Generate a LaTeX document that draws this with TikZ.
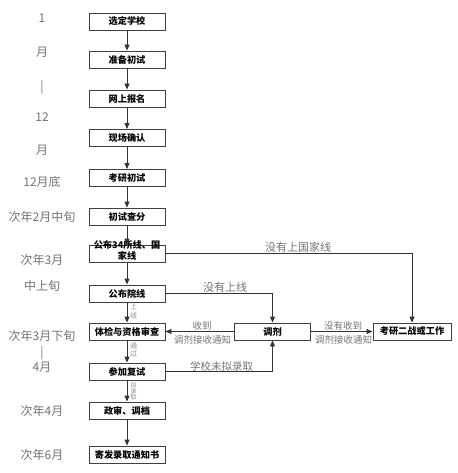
\documentclass[tikz,border=0pt]{standalone}
\usepackage{fontspec}
\setmainfont{Noto Sans CJK SC}
\usetikzlibrary{arrows.meta}
\begin{document}
\begin{tikzpicture}[x=1pt,y=-1pt,
 box/.style={draw=black!75, fill=white, line width=0.9pt, minimum width=76pt, minimum height=17pt, inner sep=0pt, font=\fontsize{9.2}{10}\selectfont\bfseries},
 tl/.style={text=black!55, font=\fontsize{12}{13}\selectfont, inner sep=0pt},
 lab/.style={text=black!55, font=\fontsize{9.5}{11}\selectfont, inner sep=0pt},
 vlab/.style={text=black!45, font=\fontsize{7}{8.5}\selectfont, inner sep=0pt, align=center},
 arr/.style={draw=black!80, line width=0.9pt, -{Triangle[length=6pt,width=5pt]}},
]
\useasboundingbox (0,0) rectangle (457,473);
% time labels
\node[tl] (t1) at (42,18) {1};
\node[tl] (t2) at (42,52) {月};
\node[tl] (t3) at (42,87) {|};
\node[tl] (t4) at (42,117) {12};
\node[tl] (t5) at (42,150) {月};
\node[tl] (t6) at (42,182) {12月底};
\node[tl] (t7) at (42,217) {次年2月中旬};
\node[tl] (t8) at (42,260) {次年3月};
\node[tl] (t9) at (42,286) {中上旬};
\node[tl] (t10) at (42,336) {次年3月下旬};
\node[tl] (t11) at (42,353) {|};
\node[tl] (t12) at (42,367) {4月};
\node[tl] (t13) at (42,411) {次年4月};
\node[tl] (t14) at (42,455) {次年6月};
% main boxes
\node[box] (n1) at (127,21.5) {选定学校};
\node[box] (n2) at (127,59.5) {准备初试};
\node[box] (n3) at (127,98.5) {网上报名};
\node[box] (n4) at (127,138) {现场确认};
\node[box] (n5) at (127,178) {考研初试};
\node[box] (n6) at (127,216.5) {初试查分};
\node[box] (n7) at (127,253.5) {\smash{\begin{tabular}[c]{@{}c@{}}公布34所线、国\\家线\end{tabular}}};
\node[box] (n8) at (127,293.5) {公布院线};
\node[box] (n9) at (127,331.5) {体检与资格审查};
\node[box] (n10) at (127,371.5) {参加复试};
\node[box] (n11) at (127,410.5) {政审、调档};
\node[box] (n12) at (127,454.5) {寄发录取通知书};
% right boxes
\node[box] (r1) at (272.5,331.5) {调剂};
\node[box, minimum width=78pt] (r2) at (412,331.5) {考研二战或工作};
% vertical arrows
\draw[arr] (n1) -- (n2);
\draw[arr] (n2) -- (n3);
\draw[arr] (n3) -- (n4);
\draw[arr] (n4) -- (n5);
\draw[arr] (n5) -- (n6);
\draw[arr] (n6) -- (n7);
\draw[arr] (n7) -- (n8);
\draw[arr] (n8) -- (n9);
\draw[arr] (n9) -- (n10);
\draw[arr] (n10) -- (n11);
\draw[arr] (n11) -- (n12);
\node[vlab] (v1) at (133.5,311.5) {上\\线};
\node[vlab] (v2) at (133.5,350) {通\\过};
\node[vlab, font=\fontsize{6}{6.2}\selectfont] (v3) at (133.5,391) {拟\\录\\取};
% side connectors
\draw[arr] (n7.east) -| (r2.north);
\draw[arr] (n8.east) -| (r1.north);
\draw[arr] (r1.west) -- (n9.east);
\draw[arr] (r1.east) -- (r2.west);
\draw[arr] (n10.east) -| (r1.south);
\node[lab, font=\fontsize{11}{12}\selectfont] (l1) at (298,247) {没有上国家线};
\node[lab, font=\fontsize{11}{12}\selectfont] (l2) at (225,287) {没有上线};
\node[lab] (l3) at (202,326) {收到};
\node[lab] (l4) at (202.5,340) {调剂接收通知};
\node[lab] (l5) at (343,326) {没有收到};
\node[lab] (l6) at (343.5,340) {调剂接收通知};
\node[lab, font=\fontsize{10.5}{12}\selectfont] (l7) at (221.5,366.5) {学校未拟录取};
\end{tikzpicture}
\end{document}
